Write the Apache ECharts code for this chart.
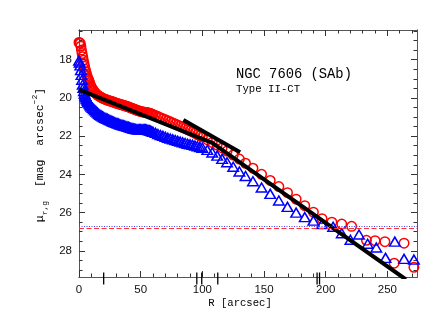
<!DOCTYPE html>
<html>
<head>
<meta charset="utf-8">
<script src="https://cdn.jsdelivr.net/npm/echarts@6/dist/echarts.min.js"></script>
<style>
  html, body { margin: 0; padding: 0; background: #fff; }
  #chart { width: 430px; height: 333px; }
</style>
</head>
<body>
<div id="chart"></div>
<script>
// surface brightness profile, red = r band (circles), blue = g band (triangles)
var redR = [0,0.5,1,1.5,2,2.5,3,3.5,4,4.5,5,5.5,6,6.5,7,7.5,8,8.5,9,9.5,10,10.5,11,11.5,12,
  13,14,15,16,17,18,19,20,
  21,22,23,24,25,26,27,28,29,30,31,32,33,34,35,36,37,38,39,40,
  41,42,43,44,45,46,47,48,49,50,51,52,53,54,55,56,57,58,59,60,
  62,64,66,68,70,72,74,76,78,80,82,84,86,88,90,92,94,96,98,100,
  104,108,112,116,120,125,130,135,141,148,155,162,169,176,183,190,197,205,213,221,
  233,240,248,255.5,263.5,271.5];
var redMu = [17.1,17.12,17.15,17.3,17.5,17.68,17.85,18.03,18.2,18.35,18.5,18.63,18.75,18.85,18.95,19.03,19.1,19.2,19.3,19.38,19.45,19.5,19.56,19.6,19.65,
  19.72,19.79,19.85,19.9,19.94,19.98,20.01,20.04,
  20.07,20.09,20.12,20.14,20.16,20.18,20.2,20.22,20.25,20.27,20.29,20.31,20.33,20.35,20.37,20.39,20.41,20.43,20.45,20.47,
  20.5,20.52,20.55,20.57,20.6,20.62,20.65,20.67,20.69,20.71,20.73,20.74,20.75,20.76,20.77,20.78,20.8,20.82,20.85,20.87,
  20.92,20.98,21.04,21.09,21.15,21.2,21.25,21.31,21.37,21.42,21.48,21.54,21.6,21.66,21.72,21.78,21.85,21.92,21.99,22.05,
  22.19,22.33,22.47,22.62,22.78,22.99,23.2,23.42,23.68,24.0,24.32,24.64,24.96,25.3,25.64,25.98,26.32,26.5,26.6,26.72,
  27.45,27.47,27.52,28.65,27.6,28.86];

var blueR = [0,0.5,1,1.5,2,2.5,3,3.5,4,4.5,5,5.5,6,6.5,7,7.5,8,8.5,9,9.5,10,
  11,12,13,14,15,16,17,18,19,20,
  21,22,23,24,25,26,27,28,29,30,31,32,33,34,35,36,37,38,39,40,
  41,42,43,44,45,46,47,48,49,50,51,52,53,54,55,56,57,58,59,60,
  62,64,66,68,70,72,74,76,78,80,82,84,86,88,90,92,94,96,98,100,
  104,108,112,116,120,125,130,135,141,148,155,162,169,176,183,190,197,206,213,220,
  227,234,241,248.5,256,263.5,271.5];
var blueMu = [18.05,18.15,18.3,18.55,18.8,19.05,19.3,19.48,19.65,19.77,19.88,19.96,20.03,20.09,20.15,20.2,20.25,20.3,20.35,20.4,20.45,
  20.52,20.59,20.65,20.71,20.77,20.83,20.88,20.93,20.97,21.01,
  21.04,21.07,21.1,21.13,21.16,21.19,21.22,21.25,21.28,21.3,21.33,21.35,21.38,21.4,21.42,21.44,21.46,21.48,21.5,21.52,
  21.54,21.56,21.58,21.6,21.62,21.63,21.64,21.64,21.64,21.64,21.64,21.64,21.65,21.65,21.66,21.68,21.7,21.72,21.75,21.78,
  21.83,21.89,21.94,21.99,22.04,22.09,22.13,22.17,22.21,22.25,22.29,22.32,22.36,22.4,22.43,22.46,22.5,22.53,22.57,22.61,
  22.72,22.86,23.02,23.19,23.37,23.6,23.85,24.09,24.36,24.69,25.02,25.37,25.7,26.0,26.24,26.42,26.6,26.74,27.08,27.42,
  27.15,27.63,27.83,28.37,27.52,28.42,28.46];

// fitted exponentials (inner + outer broken disc, and the transition fit)
var discFit = [[0, 19.57], [108, 22.35], [265, 29.5]];
var transFit = [[84.6, 21.16], [130.6, 22.84]];

// sky limits
var redSky = 26.83;
var blueSky = 26.72;

// radii marked with long ticks on the R axis
var breakR = [20, 95.5, 99.5, 112.5, 193, 195];

var xMin = 0, xMax = 274;
var yMin = 16.45, yMax = 29.37;
var xTicks = [0, 50, 100, 150, 200, 250];
var xMinor = [10,20,30,40,60,70,80,90,110,120,130,140,160,170,180,190,210,220,230,240,260,270];
var yTicks = [18, 20, 22, 24, 26, 28];
var yMinor = [16.5,17,17.5,18.5,19,19.5,20.5,21,21.5,22.5,23,23.5,24.5,25,25.5,26.5,27,27.5,28.5,29];

function pairs(xs, ys) {
  var out = [];
  for (var i = 0; i < xs.length; i++) out.push([xs[i], ys[i]]);
  return out;
}

var frame = '#555';
var tickFont = { fontFamily: 'Liberation Sans', fontSize: 11.5, color: '#111' };

function xAx(pos, ticks, len, labels) {
  return {
    type: 'value', position: pos, min: xMin, max: xMax,
    axisLine: { show: true, onZero: false, lineStyle: { color: frame, width: 1 } },
    axisTick: { show: true, inside: true, length: len, customValues: ticks, lineStyle: { color: '#333', width: 1 } },
    axisLabel: labels ? Object.assign({ show: true, margin: 7, customValues: ticks }, tickFont) : { show: false },
    splitLine: { show: false }
  };
}
function yAx(pos, ticks, len, labels) {
  return {
    type: 'value', position: pos, min: yMin, max: yMax, inverse: true,
    axisLine: { show: true, onZero: false, lineStyle: { color: frame, width: 1 } },
    axisTick: { show: true, inside: true, length: len, customValues: ticks, lineStyle: { color: '#333', width: 1 } },
    axisLabel: labels ? Object.assign({ show: true, margin: 7, customValues: ticks }, tickFont) : { show: false },
    splitLine: { show: false }
  };
}

var chart = echarts.init(document.getElementById('chart'), null, { renderer: 'canvas' });

chart.setOption({
  animation: false,
  backgroundColor: '#fff',
  grid: { left: 79, right: 13, top: 30, bottom: 56 },
  xAxis: [
    xAx('bottom', xTicks, 6, true),
    xAx('bottom', xMinor, 3.5, false),
    xAx('top', xTicks, 6, false),
    xAx('top', xMinor, 3.5, false)
  ],
  yAxis: [
    yAx('left', yTicks, 6, true),
    yAx('left', yMinor, 3.5, false),
    yAx('right', yTicks, 6, false),
    yAx('right', yMinor, 3.5, false)
  ],
  graphic: [
    { type: 'text', x: 236, y: 74, style: { text: 'NGC 7606 (SAb)', font: '13.8px "Liberation Mono"', fill: '#000', verticalAlign: 'middle' } },
    { type: 'text', x: 236, y: 89, style: { text: 'Type II-CT', font: '10.7px "Liberation Mono"', fill: '#000', verticalAlign: 'middle' } },
    { type: 'text', x: 240, y: 303, style: { text: 'R [arcsec]', font: '10.6px "Liberation Mono"', fill: '#000', align: 'center', verticalAlign: 'middle' } },
    {
      type: 'text', x: 40, y: 155, rotation: Math.PI / 2,
      style: {
        text: '{a|μ}{b|r,g}{a|  [mag  arcsec}{c|−2}{a|]}',
        align: 'center', verticalAlign: 'middle', fill: '#000',
        rich: {
          a: { fontFamily: 'Liberation Mono', fontSize: 11.5, lineHeight: 18, verticalAlign: 'middle' },
          b: { fontFamily: 'Liberation Mono', fontSize: 8, lineHeight: 18, verticalAlign: 'bottom' },
          c: { fontFamily: 'Liberation Mono', fontSize: 8, lineHeight: 18, verticalAlign: 'top' }
        }
      }
    }
  ],
  series: [
    {
      type: 'line', data: [], silent: true,
      markLine: {
        symbol: 'none', silent: true, label: { show: false },
        data: [
          { yAxis: redSky, lineStyle: { color: '#ff3333', type: [5, 2.5], width: 1 } },
          { yAxis: blueSky, lineStyle: { color: '#4444ff', type: [1, 1.5], width: 1 } }
        ]
      }
    },
    {
      name: 'r', type: 'scatter', data: pairs(redR, redMu),
      symbol: 'circle', symbolSize: 9.5,
      itemStyle: { color: 'rgba(0,0,0,0)', borderColor: '#ff0000', borderWidth: 1.5, opacity: 1 }
    },
    {
      name: 'g', type: 'scatter', data: pairs(blueR, blueMu),
      symbol: 'triangle', symbolSize: [10.5, 9],
      itemStyle: { color: 'rgba(0,0,0,0)', borderColor: '#0000ff', borderWidth: 1.5, opacity: 1 }
    },
    {
      type: 'line', data: discFit, symbol: 'none', clip: true,
      lineStyle: { color: '#000', width: 4 }
    },
    {
      type: 'line', data: transFit, symbol: 'none', clip: true,
      lineStyle: { color: '#000', width: 4 }
    },
    {
      type: 'custom', coordinateSystem: 'cartesian2d', silent: true, clip: false,
      data: breakR.map(function (r) { return [r, yMax]; }),
      renderItem: function (params, api) {
        var p = api.coord([api.value(0), api.value(1)]);
        return {
          type: 'line',
          shape: { x1: p[0], y1: p[1] - 4.5, x2: p[0], y2: p[1] + 7.5 },
          style: { stroke: '#000', lineWidth: 1.3 }
        };
      }
    }
  ]
});
</script>
</body>
</html>
